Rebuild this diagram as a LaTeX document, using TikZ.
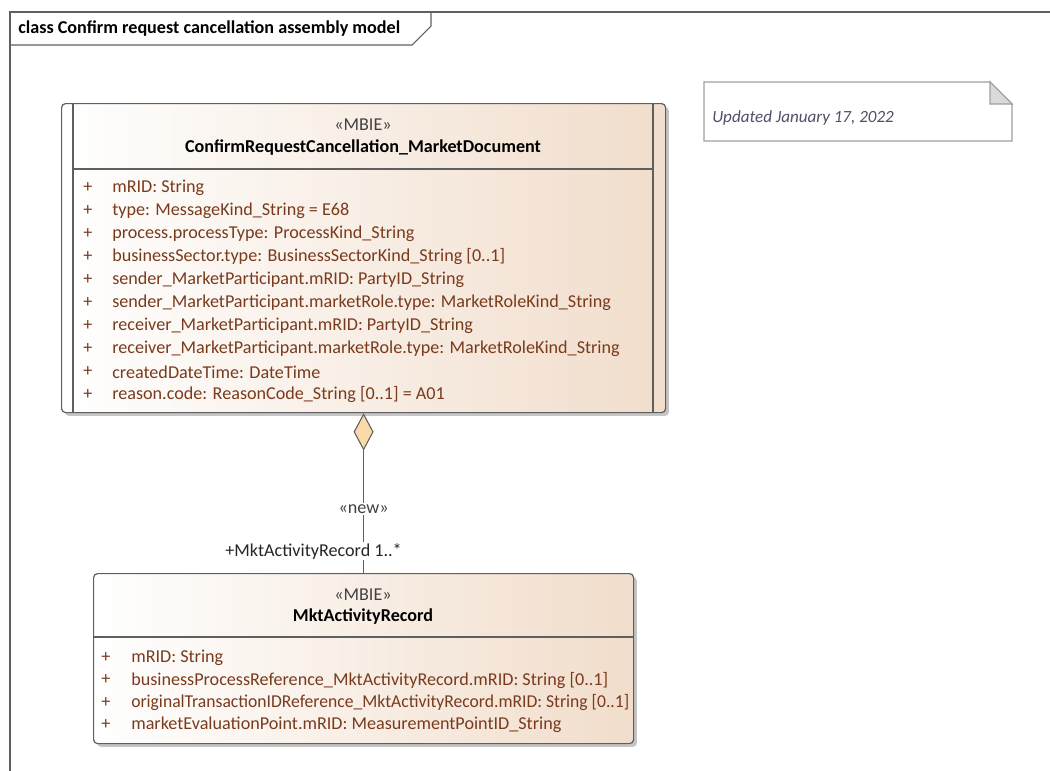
\documentclass[tikz,border=0pt]{standalone}
\usepackage{fontspec}
\setmainfont{Carlito}
\usepackage{xcolor}
\usetikzlibrary{arrows.meta, positioning, shadows}

\definecolor{attrtext}{RGB}{122,58,28}
\definecolor{boxtan}{RGB}{241,221,203}
\definecolor{boxline}{RGB}{95,95,95}
\definecolor{diafill}{RGB}{250,218,168}
\definecolor{notetext}{RGB}{80,80,105}
\definecolor{notefold}{RGB}{218,218,218}

\begin{document}
\begin{tikzpicture}[x=0.75pt, y=-0.75pt, font=\fontsize{13.6}{16}\selectfont,
  classbox/.style={draw=boxline, line width=0.9pt, rounded corners=3pt,
    left color=white, right color=boxtan, inner sep=0pt, anchor=north west,
    drop shadow={shadow xshift=2.5pt, shadow yshift=-2.5pt, fill=black!45, opacity=0.5}},
  stereo/.style={text=black!75},
  cname/.style={font=\fontsize{13.6}{16}\selectfont\bfseries},
  attr/.style={text=attrtext, anchor=west, inner sep=0pt},
  assoc/.style={draw=boxline, line width=0.8pt,
    {Diamond[length=28pt, width=15pt, fill=diafill]}-}]
  \useasboundingbox (0,0) rectangle (1050,771);

  % diagram frame and title tab
  \draw[boxline, line width=0.8pt] (10,771) -- (10,12) -- (1050,12);
  \draw[boxline, line width=0.8pt] (10,45) -- (412,45) -- (431,26) -- (431,12);
  \node[anchor=west, inner sep=0pt, font=\fontsize{13.6}{16}\selectfont\bfseries] (title) at (18,29)
    {class Confirm request cancellation assembly model};

  % note
  \draw[boxline!60, line width=0.8pt, fill=white] (704,82) -- (990,82) -- (1012,104)
    -- (1012,141) -- (704,141) -- cycle;
  \draw[boxline!60, line width=0.8pt, fill=notefold] (990,82) -- (990,104) -- (1012,104) -- cycle;
  \node[anchor=west, inner sep=0pt, text=notetext, font=\fontsize{12.8}{15}\selectfont\itshape] (note) at (712,118)
    {Updated January 17, 2022};

  % ConfirmRequestCancellation_MarketDocument
  \node[classbox, minimum width=453pt, minimum height=231.75pt] (doc) at (61,103) {};
  \draw[boxline, line width=0.9pt] (73,103) -- (73,412);
  \draw[boxline, line width=0.9pt] (653,103) -- (653,412);
  \draw[boxline, line width=0.9pt] (73,169) -- (653,169);
  \node[stereo] (docst) at (363,125) {«MBIE»};
  \node[cname] (docname) at (363,148) {ConfirmRequestCancellation\_MarketDocument};
  \foreach \t [count=\i] in {mRID: String,
      type: MessageKind\_String = E68,
      process.processType: ProcessKind\_String,
      businessSector.type: BusinessSectorKind\_String [0..1],
      sender\_MarketParticipant.mRID: PartyID\_String,
      sender\_MarketParticipant.marketRole.type: MarketRoleKind\_String,
      receiver\_MarketParticipant.mRID: PartyID\_String,
      receiver\_MarketParticipant.marketRole.type: MarketRoleKind\_String,
      createdDateTime: DateTime,
      reason.code: ReasonCode\_String [0..1] = A01} {
    \node[attr] (docp\i) at (83,165+23*\i) {+};
    \node[attr] (doca\i) at (112,165+23*\i) {\t};
  }

  % MktActivityRecord
  \node[classbox, minimum width=405pt, minimum height=127.5pt] (rec) at (93,573) {};
  \draw[boxline, line width=0.9pt] (93,637) -- (633,637);
  \node[stereo] (recst) at (363,595) {«MBIE»};
  \node[cname] (recname) at (363,617) {MktActivityRecord};
  \foreach \t [count=\i] in {mRID: String,
      businessProcessReference\_MktActivityRecord.mRID: String [0..1],
      \scalebox{0.97}[1]{originalTransactionIDReference\_MktActivityRecord.mRID: String [0..1]},
      marketEvaluationPoint.mRID: MeasurementPointID\_String} {
    \node[attr] (recp\i) at (101,635+22.5*\i) {+};
    \node[attr] (reca\i) at (131,635+22.5*\i) {\t};
  }

  % aggregation
  \draw[assoc] (doc.south) -- (rec.north)
    node[pos=0.6, fill=white, inner sep=1pt, text=black!75] (assocst) {«new»}
    node[pos=0.863, anchor=east, xshift=30pt, fill=white, inner sep=1pt, text=black!85] (assocrole)
      {+MktActivityRecord 1..*};
\end{tikzpicture}
\end{document}
